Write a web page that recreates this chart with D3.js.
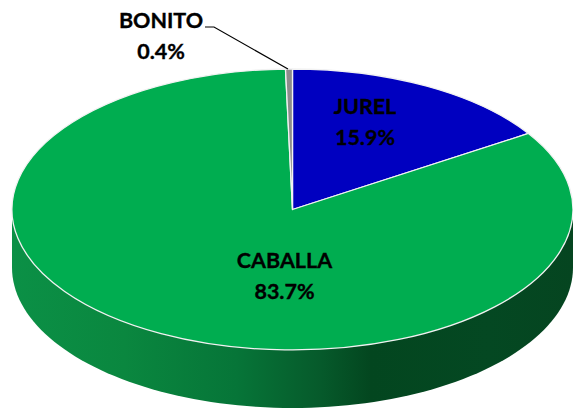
<!DOCTYPE html>
<html><head><meta charset="utf-8">
<script src="https://cdn.jsdelivr.net/npm/d3@7"></script>
<style>html,body{margin:0;padding:0;background:#fff}svg{display:block}text{font-family:Lato,sans-serif;font-weight:700;fill:#000;stroke:#000;stroke-width:.35px;text-anchor:middle}</style>
</head><body><svg width="573" height="409"></svg>
<script>
const categories = ["JUREL","CABALLA","BONITO"];
const values = [15.9,83.7,0.4];
const colors = ["#0000c0","#00ad50","#8c8c8c"];
const W=573,H=409,cx=292.5,cy=209.5,rx=280.5,ry=140.5,depth=58;
const svg=d3.select("svg");
const defs=svg.append("defs");
const grad=defs.append("linearGradient").attr("id","side").attr("gradientUnits","userSpaceOnUse")
  .attr("x1",cx-rx).attr("x2",cx+rx).attr("y1",0).attr("y2",0);
[[0,"#0b9046"],[0.2,"#0a873f"],[0.4,"#067538"],[0.55,"#065a2b"],[0.64,"#03461f"],[0.85,"#044822"],[1,"#054520"]]
 .forEach(([o,c])=>grad.append("stop").attr("offset",o).attr("stop-color",c));
// side wall
const p=d3.path();
p.moveTo(cx-rx,cy);
p.lineTo(cx-rx,cy+depth);
const n=96;
for(let i=1;i<=n;i++){const a=Math.PI-Math.PI*i/n;p.lineTo(cx+rx*Math.cos(a),cy+depth+ry*Math.sin(a));}
p.lineTo(cx+rx,cy);p.closePath();
svg.append("path").attr("d",p.toString()).attr("fill","url(#side)");
// top
const pie=d3.pie().sort(null).value(d=>d)(values);
const arc=d3.arc().innerRadius(0).outerRadius(1);
const g=svg.append("g").attr("transform",`translate(${cx},${cy}) scale(${rx},${ry})`);
g.selectAll("path").data(pie).join("path").attr("d",arc)
 .attr("fill",(d,i)=>colors[i]).attr("stroke","#f2f2f2").attr("stroke-width",1.3)
 .attr("vector-effect","non-scaling-stroke").attr("stroke-linejoin","round");
// labels
const labels=[
 {x:365,y:114,i:0},{x:284.5,y:268,i:1},{x:161,y:28,i:2}];
const fs=21.5;
labels.forEach(l=>{
  const t=svg.append("text").attr("font-size",fs);
  t.append("tspan").attr("x",l.x).attr("y",l.y).text(categories[l.i]);
  t.append("tspan").attr("x",l.x).attr("y",l.y+31).text(values[l.i].toFixed(1)+"%");
});
// leader
const b=pie[2],mid=(b.startAngle+b.endAngle)/2;
const lx=cx+rx*Math.sin(mid),ly=cy-ry*Math.cos(mid);
svg.append("polyline").attr("fill","none").attr("stroke","#000").attr("stroke-width",1.2)
 .attr("points",[[205,27],[214,27],[lx-1,ly]].join(" "));
</script></body></html>
